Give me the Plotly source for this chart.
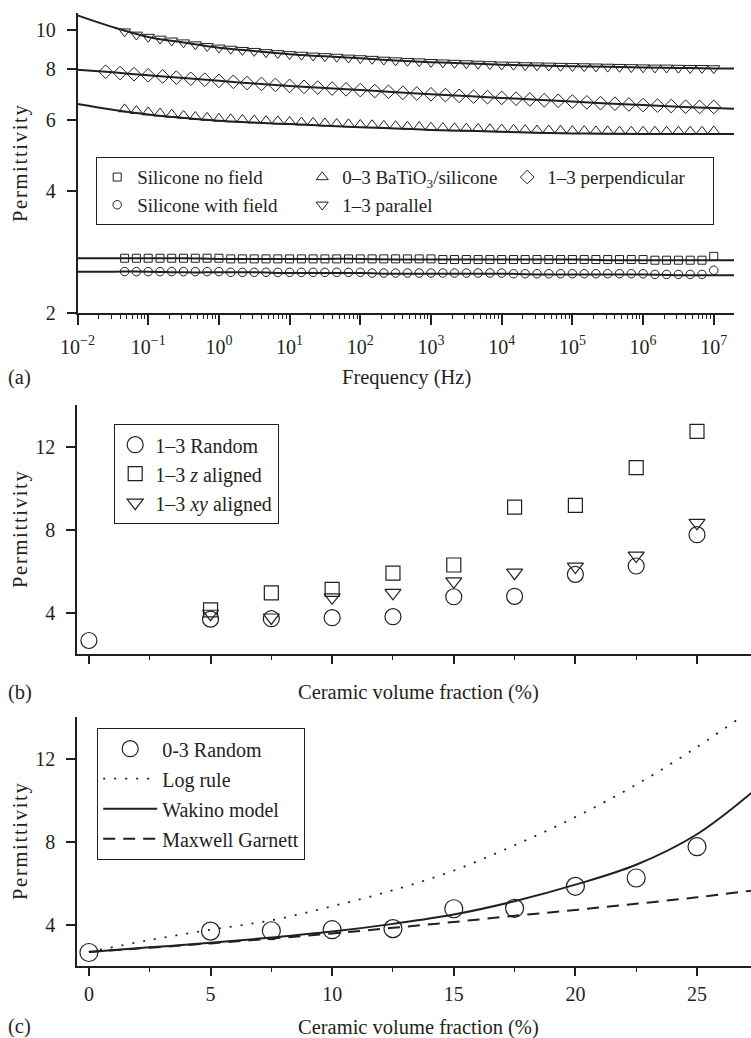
import plotly.graph_objects as go
import math

FONT = "Liberation Serif"
INK = "#231f20"
W, H = 751, 1038

# ---------------- Panel (a): permittivity vs frequency ----------------
freq_pts = [0.0464, 0.0681,
            0.1, 0.147, 0.215, 0.316, 0.464, 0.681,
            1, 1.47, 2.15, 3.16, 4.64, 6.81,
            10, 14.7, 21.5, 31.6, 46.4, 68.1,
            100, 147, 215, 316, 464, 681,
            1e3, 1.47e3, 2.15e3, 3.16e3, 4.64e3, 6.81e3,
            1e4, 1.47e4, 2.15e4, 3.16e4, 4.64e4, 6.81e4,
            1e5, 1.47e5, 2.15e5, 3.16e5, 4.64e5, 6.81e5,
            1e6, 1.47e6, 2.15e6, 3.16e6, 4.64e6, 6.81e6,
            1e7]
freq_perp = [0.025, 0.04, 0.063,
             0.1, 0.16, 0.25, 0.4, 0.63,
             1, 1.6, 2.5, 4, 6.3,
             10, 16, 25, 40, 63,
             100, 160, 250, 400, 630,
             1e3, 1.6e3, 2.5e3, 4e3, 6.3e3,
             1e4, 1.6e4, 2.5e4, 4e4, 6.3e4,
             1e5, 1.6e5, 2.5e5, 4e5, 6.3e5,
             1e6, 1.6e6, 2.5e6, 4e6, 6.3e6,
             1e7]
freq_fit = [0.01, 0.0316, 0.1, 0.316, 1, 3.16, 10, 31.6, 100, 316,
            1e3, 3.16e3, 1e4, 3.16e4, 1e5, 3.16e5, 1e6, 3.16e6, 1e7, 2e7]

parallel_pts = [9.9, 9.72, 9.6, 9.5, 9.4, 9.3, 9.2, 9.11, 9.03,
                8.97, 8.91, 8.86, 8.8, 8.75, 8.7,
                8.67, 8.63, 8.6, 8.57, 8.53, 8.5,
                8.47, 8.43, 8.4, 8.37, 8.35, 8.32,
                8.3, 8.28, 8.26, 8.24, 8.22, 8.2,
                8.19, 8.17, 8.16, 8.15, 8.14, 8.13,
                8.12, 8.11, 8.1, 8.09, 8.08, 8.07,
                8.06, 8.06, 8.05, 8.04, 8.04, 8.03]
batio_pts = [6.37, 6.31, 6.26, 6.22, 6.18, 6.14, 6.1, 6.07, 6.04,
             6.02, 6.0, 5.98, 5.96, 5.95, 5.93,
             5.91, 5.9, 5.88, 5.86, 5.85, 5.83,
             5.82, 5.8, 5.79, 5.77, 5.76, 5.74,
             5.73, 5.72, 5.71, 5.7, 5.69, 5.68,
             5.67, 5.66, 5.65, 5.65, 5.64, 5.63,
             5.63, 5.62, 5.62, 5.61, 5.61, 5.61,
             5.61, 5.61, 5.61, 5.61, 5.61, 5.62]
nofield_pts = [2.73, 2.73, 2.73, 2.73, 2.73, 2.73, 2.73, 2.73, 2.73,
               2.72, 2.72, 2.72, 2.72, 2.72, 2.72,
               2.72, 2.72, 2.72, 2.72, 2.72, 2.72,
               2.72, 2.72, 2.72, 2.72, 2.72, 2.72,
               2.71, 2.71, 2.71, 2.71, 2.71, 2.71,
               2.71, 2.71, 2.71, 2.71, 2.71, 2.71,
               2.71, 2.71, 2.71, 2.71, 2.71, 2.71,
               2.70, 2.70, 2.70, 2.70, 2.70, 2.76]
withfield_pts = [2.53, 2.53, 2.53, 2.53, 2.53, 2.53, 2.53, 2.53, 2.53,
                 2.52, 2.52, 2.52, 2.52, 2.52, 2.52,
                 2.52, 2.52, 2.52, 2.52, 2.52, 2.52,
                 2.51, 2.51, 2.51, 2.51, 2.51, 2.51,
                 2.51, 2.51, 2.51, 2.51, 2.51, 2.51,
                 2.50, 2.50, 2.50, 2.50, 2.50, 2.50,
                 2.50, 2.50, 2.50, 2.50, 2.50, 2.50,
                 2.49, 2.49, 2.49, 2.49, 2.49, 2.55]
perp_pts = [7.88, 7.82, 7.77,
            7.72, 7.67, 7.62, 7.57, 7.53,
            7.48, 7.44, 7.39, 7.35, 7.31,
            7.27, 7.23, 7.2, 7.16, 7.13,
            7.1, 7.06, 7.03, 6.99, 6.96,
            6.93, 6.9, 6.87, 6.84, 6.82,
            6.79, 6.76, 6.73, 6.7, 6.68,
            6.65, 6.62, 6.59, 6.57, 6.54,
            6.52, 6.5, 6.48, 6.46, 6.45,
            6.45]

parallel_fit = [10.85, 10.15, 9.6, 9.3, 9.03, 8.86, 8.7, 8.6, 8.5, 8.4,
                8.32, 8.26, 8.2, 8.16, 8.13, 8.1, 8.07, 8.05, 8.03, 8.02]
perp_fit = [7.97, 7.85, 7.72, 7.6, 7.48, 7.37, 7.27, 7.18, 7.1, 7.01,
            6.93, 6.86, 6.79, 6.72, 6.65, 6.58, 6.52, 6.46, 6.41, 6.38]
batio_fit = [6.56, 6.35, 6.18, 6.06, 5.96, 5.9, 5.85, 5.8, 5.75, 5.71,
             5.66, 5.63, 5.6, 5.57, 5.55, 5.54, 5.53, 5.53, 5.53, 5.53]
nofield_fit = [2.73, 2.73, 2.73, 2.73, 2.72, 2.72, 2.72, 2.72, 2.72, 2.71,
               2.71, 2.71, 2.71, 2.71, 2.71, 2.70, 2.70, 2.70, 2.70, 2.70]
withfield_fit = [2.53, 2.53, 2.53, 2.52, 2.52, 2.52, 2.51, 2.51, 2.51, 2.50,
                 2.50, 2.50, 2.50, 2.49, 2.49, 2.49, 2.49, 2.48, 2.48, 2.48]

freq_ticks = [1e-2, 1e-1, 1, 10, 100, 1e3, 1e4, 1e5, 1e6, 1e7]
freq_labels = ["10<sup>−2</sup>", "10<sup>−1</sup>", "10<sup>0</sup>", "10<sup>1</sup>",
               "10<sup>2</sup>", "10<sup>3</sup>", "10<sup>4</sup>", "10<sup>5</sup>",
               "10<sup>6</sup>", "10<sup>7</sup>"]
perm_ticks_a = [2, 4, 6, 8, 10]

# ---------------- Panels (b) and (c): permittivity vs volume fraction ----------------
vol_frac = [0, 5, 7.5, 10, 12.5, 15, 17.5, 20, 22.5, 25]
random_vals = [2.65, 3.68, 3.7, 3.75, 3.8, 4.76, 4.78, 5.84, 6.24, 7.75]
vol_frac_al = [5, 7.5, 10, 12.5, 15, 17.5, 20, 22.5, 25]
z_aligned = [4.13, 4.95, 5.11, 5.9, 6.29, 9.08, 9.16, 10.98, 12.73]
xy_aligned = [3.94, 3.76, 4.73, 4.95, 5.5, 5.92, 6.21, 6.74, 8.32]

model_frac = [0, 2.5, 5, 7.5, 10, 12.5, 15, 17.5, 20, 22.5, 25, 27.3]
log_rule = [2.68, 3.25, 3.75, 4.2, 4.88, 5.65, 6.6, 7.82, 9.18, 10.74, 12.55, 14.4]
wakino = [2.68, 2.9, 3.12, 3.37, 3.66, 4.03, 4.48, 5.12, 5.92, 6.88, 8.35, 10.4]
maxwell_garnett = [2.68, 2.88, 3.09, 3.32, 3.57, 3.84, 4.12, 4.42, 4.7, 5.0, 5.31, 5.64]


def px_x(p):
    return p / W


def px_y(p):
    return 1 - p / H


def mk(symbol, size, lw=1.0):
    return dict(symbol=symbol, size=size, color=INK, line=dict(width=lw, color=INK))


fig = go.Figure()

# --- panel (a) markers
series_a = [
    ("Silicone no field", freq_pts, nofield_pts, "square-open", 8, 1),
    ("0–3 BaTiO<sub>3</sub>/silicone", freq_pts, batio_pts, "triangle-up-open", 10.5, 2),
    ("1–3 perpendicular", freq_perp, perp_pts, "diamond-open", 10.5, 3),
    ("Silicone with field", freq_pts, withfield_pts, "circle-open", 8.5, 4),
    ("1–3 parallel", freq_pts, parallel_pts, "triangle-down-open", 10.5, 5),
]
for name, fx, fy, sym, size, rank in series_a:
    fig.add_trace(go.Scatter(x=fx, y=fy, mode="markers", name=name, marker=mk(sym, size),
                             xaxis="x", yaxis="y", legend="legend", legendrank=rank,
                             showlegend=True))
for fy in [parallel_fit, perp_fit, batio_fit, nofield_fit, withfield_fit]:
    fig.add_trace(go.Scatter(x=freq_fit, y=fy, mode="lines", line=dict(color=INK, width=2, shape="spline"),
                             xaxis="x", yaxis="y", showlegend=False, hoverinfo="skip"))

# --- panel (b)
fig.add_trace(go.Scatter(x=vol_frac, y=random_vals, mode="markers", name="1–3 Random",
                         marker=mk("circle-open", 16, 1.2), xaxis="x2", yaxis="y2",
                         legend="legend2", legendgroup="b1", legendrank=1))
fig.add_trace(go.Scatter(x=vol_frac_al, y=z_aligned, mode="markers", name="1–3 <i>z</i> aligned",
                         marker=mk("square-open", 14, 1.2), xaxis="x2", yaxis="y2",
                         legend="legend2", legendgroup="b2", legendrank=2))
fig.add_trace(go.Scatter(x=vol_frac_al, y=xy_aligned, mode="markers", name="1–3 <i>xy</i> aligned",
                         marker=mk("triangle-down-open", 14, 1.2), xaxis="x2", yaxis="y2",
                         legend="legend2", legendgroup="b3", legendrank=3))

# --- panel (c)
fig.add_trace(go.Scatter(x=model_frac, y=log_rule, mode="lines", name="Log rule",
                         line=dict(color=INK, width=1.8, dash="2px,9px", shape="spline"),
                         xaxis="x3", yaxis="y3", legend="legend3", legendgroup="c2", legendrank=2))
fig.add_trace(go.Scatter(x=model_frac, y=wakino, mode="lines", name="Wakino model",
                         line=dict(color=INK, width=2, shape="spline"),
                         xaxis="x3", yaxis="y3", legend="legend3", legendgroup="c3", legendrank=3))
fig.add_trace(go.Scatter(x=model_frac, y=maxwell_garnett, mode="lines", name="Maxwell Garnett",
                         line=dict(color=INK, width=2, dash="12px,8px", shape="spline"),
                         xaxis="x3", yaxis="y3", legend="legend3", legendgroup="c4", legendrank=4))
fig.add_trace(go.Scatter(x=vol_frac, y=random_vals, mode="markers", name="0-3 Random",
                         marker=mk("circle-open", 18, 1.2), xaxis="x3", yaxis="y3",
                         legend="legend3", legendgroup="c1", legendrank=1))

tickfont = dict(family=FONT, size=20, color=INK)
minor_a = [m * 10 ** e for e in range(-2, 7) for m in range(2, 10)]

common = dict(showgrid=False, zeroline=False, showline=True, linecolor=INK, linewidth=1.6,
              tickcolor=INK, tickwidth=1.5, tickfont=tickfont, automargin=False)

xa_dom = [px_x(77.5), px_x(734)]
xbc_dom = [px_x(77), 1.0]
ya_dom = [px_y(313), px_y(13)]
yb_dom = [px_y(654), px_y(405)]
yc_dom = [px_y(966), px_y(717)]
xa_range = [-2, 7.286]
ya_range = [math.log10(2), math.log10(11)]
xbc_range = [-0.49, 27.22]
ybc_range = [2, 14]

layout = dict(
    width=W, height=H, margin=dict(l=0, r=0, t=0, b=0, pad=0, autoexpand=False),
    paper_bgcolor="white", plot_bgcolor="white",
    font=dict(family=FONT, size=20, color=INK),
    # panel a
    xaxis=dict(common, type="log", domain=xa_dom, anchor="y", range=xa_range,
               tickmode="array", tickvals=freq_ticks, ticktext=freq_labels,
               ticks="outside", ticklen=10, ticklabelstandoff=5,
               minor=dict(tickmode="array", tickvals=minor_a, ticks="outside", ticklen=4,
                          tickwidth=1.2, tickcolor=INK, showgrid=False)),
    xaxis4=dict(common, type="log", overlaying="x", side="top", anchor="y", range=xa_range,
                tickmode="array", tickvals=freq_ticks, ticks="inside", ticklen=10,
                showticklabels=False,
                minor=dict(tickmode="array", tickvals=minor_a, ticks="inside", ticklen=4,
                           tickwidth=1.2, tickcolor=INK, showgrid=False)),
    yaxis=dict(common, type="log", domain=ya_dom, anchor="x", range=ya_range,
               tickmode="array", tickvals=perm_ticks_a, ticktext=[str(v) for v in perm_ticks_a],
               ticks="outside", ticklen=9, ticklabelstandoff=7),
    yaxis4=dict(common, type="log", overlaying="y", side="right", anchor="x", range=ya_range,
                tickmode="array", tickvals=perm_ticks_a, ticks="inside", ticklen=9,
                showticklabels=False),
    # panel b
    xaxis2=dict(common, domain=xbc_dom, anchor="y2", range=xbc_range,
                tickmode="linear", tick0=0, dtick=5, ticks="outside", ticklen=8,
                showticklabels=False,
                minor=dict(tick0=0, dtick=2.5, ticks="outside", ticklen=4, tickwidth=1.2,
                           tickcolor=INK, showgrid=False)),
    xaxis5=dict(common, overlaying="x2", side="top", anchor="y2", range=xbc_range,
                tickmode="linear", tick0=0, dtick=5, ticks="inside", ticklen=9,
                showticklabels=False,
                minor=dict(tick0=0, dtick=2.5, ticks="inside", ticklen=5, tickwidth=1.2,
                           tickcolor=INK, showgrid=False)),
    yaxis2=dict(common, domain=yb_dom, anchor="x2", range=ybc_range,
                tickmode="linear", tick0=0, dtick=4, ticks="outside", ticklen=9,
                ticklabelstandoff=7),
    yaxis5=dict(common, overlaying="y2", side="right", anchor="x2", range=ybc_range,
                tickmode="linear", tick0=0, dtick=4, ticks="inside", ticklen=4,
                showticklabels=False, showline=False),
    # panel c
    xaxis3=dict(common, domain=xbc_dom, anchor="y3", range=xbc_range,
                tickmode="linear", tick0=0, dtick=5, ticks="outside", ticklen=8,
                ticklabelstandoff=1,
                minor=dict(tick0=0, dtick=2.5, ticks="outside", ticklen=4, tickwidth=1.2,
                           tickcolor=INK, showgrid=False)),
    xaxis6=dict(common, overlaying="x3", side="top", anchor="y3", range=xbc_range,
                tickmode="linear", tick0=0, dtick=5, ticks="inside", ticklen=9,
                showticklabels=False,
                minor=dict(tick0=0, dtick=2.5, ticks="inside", ticklen=5, tickwidth=1.2,
                           tickcolor=INK, showgrid=False)),
    yaxis3=dict(common, domain=yc_dom, anchor="x3", range=ybc_range,
                tickmode="linear", tick0=0, dtick=4, ticks="outside", ticklen=9,
                ticklabelstandoff=7),
    yaxis6=dict(common, overlaying="y3", side="right", anchor="x3", range=ybc_range,
                tickmode="linear", tick0=0, dtick=4, ticks="inside", ticklen=4,
                showticklabels=False, showline=False),
    legend=dict(x=px_x(96), y=px_y(157), xanchor="left", yanchor="top", orientation="h",
                entrywidth=160, entrywidthmode="pixels", itemwidth=30,
                font=dict(family=FONT, size=19, color=INK), bgcolor="white",
                bordercolor=INK, borderwidth=1.2, traceorder="normal"),
    legend2=dict(x=px_x(114), y=px_y(424), xanchor="left", yanchor="top", orientation="v",
                 itemwidth=30, font=dict(family=FONT, size=20, color=INK), bgcolor="white",
                 bordercolor=INK, borderwidth=1.2, traceorder="grouped", tracegroupgap=0),
    legend3=dict(x=px_x(97), y=px_y(728), xanchor="left", yanchor="top", orientation="v",
                 itemwidth=54, font=dict(family=FONT, size=20, color=INK), bgcolor="white",
                 bordercolor=INK, borderwidth=1.2, traceorder="grouped", tracegroupgap=1),
    showlegend=True,
)
fig.update_layout(**layout)

ann_font = dict(family=FONT, size=20.5, color=INK)
perm_title = "\u200a".join("Permittivity")
annotations = [
    (perm_title, 20, 163, -90),
    (perm_title, 20, 529, -90),
    (perm_title, 20, 841, -90),
    ("Frequency (Hz)", 406, 377, 0),
    ("Ceramic volume fraction (%)", 418, 692, 0),
    ("Ceramic volume fraction (%)", 418, 1027, 0),
    ("(a)", 19, 377, 0),
    ("(b)", 20, 692, 0),
    ("(c)", 19, 1026, 0),
]
for text, xp, yp, ang in annotations:
    fig.add_annotation(text=text, x=px_x(xp), y=px_y(yp), xref="paper", yref="paper",
                       xanchor="center", yanchor="middle", showarrow=False,
                       textangle=ang, font=ann_font)

fig.write_html("out.html")
